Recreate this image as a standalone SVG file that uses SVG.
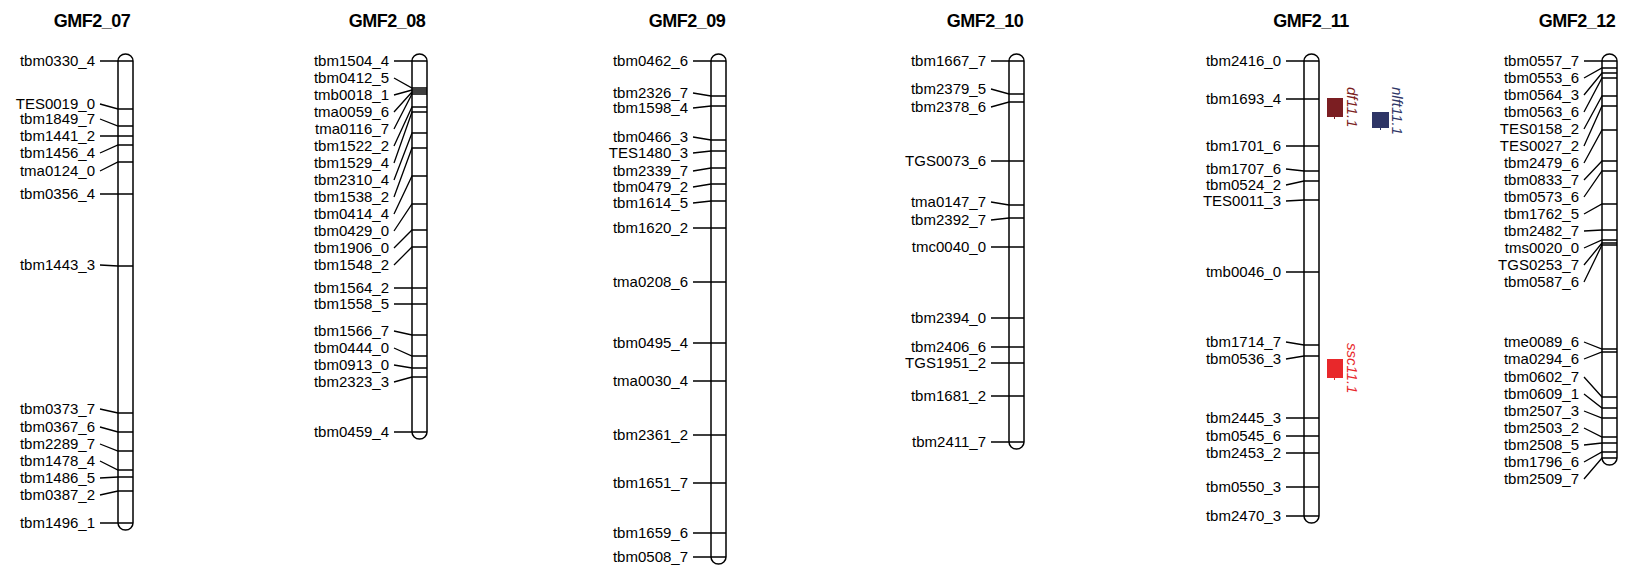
<svg xmlns="http://www.w3.org/2000/svg" width="1627" height="571" viewBox="0 0 1627 571">
<style>
.chr{fill:#fff;stroke:#000;stroke-width:1.5}
.mk{fill:none;stroke:#000;stroke-width:1.3}
.t{font-family:"Liberation Sans",Arial,sans-serif;font-size:15px;fill:#000;text-anchor:end}
.h{font-family:"Liberation Sans",Arial,sans-serif;font-size:18px;font-weight:bold;letter-spacing:-0.5px;text-anchor:middle;fill:#000}
.q{font-family:"Liberation Sans",Arial,sans-serif;font-size:15px;font-style:italic}
</style>
<rect width="1627" height="571" fill="#fff"/>

<g id="GMF2_07">
<text class="h" x="92" y="27">GMF2_07</text>
<path class="chr" d="M118 61 A7.5 7 0 0 1 133 61 L133 523 A7.5 7 0 0 1 118 523 Z"/>
<path class="mk" d="M100 61L118 61H133M100 104L118 109H133M100 119L118 126H133M100 136L118 136H133M100 153L118 145H133M100 171L118 162H133M100 194L118 194H133M100 265L118 266H133M100 409L118 413H133M100 427L118 432H133M100 444L118 451H133M100 461L118 470H133M100 478L118 477H133M100 495L118 491H133M100 523L118 523H133"/>
<text class="t" x="95" y="66">tbm0330_4</text>
<text class="t" x="95" y="109">TES0019_0</text>
<text class="t" x="95" y="124">tbm1849_7</text>
<text class="t" x="95" y="141">tbm1441_2</text>
<text class="t" x="95" y="158">tbm1456_4</text>
<text class="t" x="95" y="176">tma0124_0</text>
<text class="t" x="95" y="199">tbm0356_4</text>
<text class="t" x="95" y="270">tbm1443_3</text>
<text class="t" x="95" y="414">tbm0373_7</text>
<text class="t" x="95" y="432">tbm0367_6</text>
<text class="t" x="95" y="449">tbm2289_7</text>
<text class="t" x="95" y="466">tbm1478_4</text>
<text class="t" x="95" y="483">tbm1486_5</text>
<text class="t" x="95" y="500">tbm0387_2</text>
<text class="t" x="95" y="528">tbm1496_1</text>
</g>

<g id="GMF2_08">
<text class="h" x="387" y="27">GMF2_08</text>
<path class="chr" d="M412 61 A7.5 7 0 0 1 427 61 L427 432 A7.5 7 0 0 1 412 432 Z"/>
<path class="mk" d="M394 61L412 61H427M394 78L412 88H427M394 95L412 90H427M394 112L412 92H427M394 129L412 94H427M394 146L412 107H427M394 163L412 112H427M394 180L412 133H427M394 197L412 148H427M394 214L412 176H427M394 231L412 204H427M394 248L412 230H427M394 265L412 247H427M394 288L412 288H427M394 304L412 304H427M394 331L412 335H427M394 348L412 356H427M394 365L412 368H427M394 382L412 377H427M394 432L412 432H427"/>
<text class="t" x="389" y="66">tbm1504_4</text>
<text class="t" x="389" y="83">tbm0412_5</text>
<text class="t" x="389" y="100">tmb0018_1</text>
<text class="t" x="389" y="117">tma0059_6</text>
<text class="t" x="389" y="134">tma0116_7</text>
<text class="t" x="389" y="151">tbm1522_2</text>
<text class="t" x="389" y="168">tbm1529_4</text>
<text class="t" x="389" y="185">tbm2310_4</text>
<text class="t" x="389" y="202">tbm1538_2</text>
<text class="t" x="389" y="219">tbm0414_4</text>
<text class="t" x="389" y="236">tbm0429_0</text>
<text class="t" x="389" y="253">tbm1906_0</text>
<text class="t" x="389" y="270">tbm1548_2</text>
<text class="t" x="389" y="293">tbm1564_2</text>
<text class="t" x="389" y="309">tbm1558_5</text>
<text class="t" x="389" y="336">tbm1566_7</text>
<text class="t" x="389" y="353">tbm0444_0</text>
<text class="t" x="389" y="370">tbm0913_0</text>
<text class="t" x="389" y="387">tbm2323_3</text>
<text class="t" x="389" y="437">tbm0459_4</text>
</g>

<g id="GMF2_09">
<text class="h" x="687" y="27">GMF2_09</text>
<path class="chr" d="M711 61 A7.5 7 0 0 1 726 61 L726 557 A7.5 7 0 0 1 711 557 Z"/>
<path class="mk" d="M693 61L711 61H726M693 93L711 96H726M693 108L711 106H726M693 137L711 140H726M693 153L711 151H726M693 171L711 168H726M693 187L711 184H726M693 203L711 201H726M693 228L711 228H726M693 282L711 282H726M693 343L711 343H726M693 381L711 381H726M693 435L711 435H726M693 483L711 483H726M693 533L711 533H726M693 557L711 557H726"/>
<text class="t" x="688" y="66">tbm0462_6</text>
<text class="t" x="688" y="98">tbm2326_7</text>
<text class="t" x="688" y="113">tbm1598_4</text>
<text class="t" x="688" y="142">tbm0466_3</text>
<text class="t" x="688" y="158">TES1480_3</text>
<text class="t" x="688" y="176">tbm2339_7</text>
<text class="t" x="688" y="192">tbm0479_2</text>
<text class="t" x="688" y="208">tbm1614_5</text>
<text class="t" x="688" y="233">tbm1620_2</text>
<text class="t" x="688" y="287">tma0208_6</text>
<text class="t" x="688" y="348">tbm0495_4</text>
<text class="t" x="688" y="386">tma0030_4</text>
<text class="t" x="688" y="440">tbm2361_2</text>
<text class="t" x="688" y="488">tbm1651_7</text>
<text class="t" x="688" y="538">tbm1659_6</text>
<text class="t" x="688" y="562">tbm0508_7</text>
</g>

<g id="GMF2_10">
<text class="h" x="985" y="27">GMF2_10</text>
<path class="chr" d="M1009 61 A7.5 7 0 0 1 1024 61 L1024 442 A7.5 7 0 0 1 1009 442 Z"/>
<path class="mk" d="M991 61L1009 61H1024M991 89L1009 94H1024M991 107L1009 102H1024M991 161L1009 161H1024M991 202L1009 205H1024M991 220L1009 218H1024M991 247L1009 247H1024M991 318L1009 318H1024M991 347L1009 347H1024M991 363L1009 363H1024M991 396L1009 396H1024M991 442L1009 442H1024"/>
<text class="t" x="986" y="66">tbm1667_7</text>
<text class="t" x="986" y="94">tbm2379_5</text>
<text class="t" x="986" y="112">tbm2378_6</text>
<text class="t" x="986" y="166">TGS0073_6</text>
<text class="t" x="986" y="207">tma0147_7</text>
<text class="t" x="986" y="225">tbm2392_7</text>
<text class="t" x="986" y="252">tmc0040_0</text>
<text class="t" x="986" y="323">tbm2394_0</text>
<text class="t" x="986" y="352">tbm2406_6</text>
<text class="t" x="986" y="368">TGS1951_2</text>
<text class="t" x="986" y="401">tbm1681_2</text>
<text class="t" x="986" y="447">tbm2411_7</text>
</g>

<g id="GMF2_11">
<text class="h" x="1311" y="27">GMF2_11</text>
<path class="chr" d="M1304 61 A7.5 7 0 0 1 1319 61 L1319 516 A7.5 7 0 0 1 1304 516 Z"/>
<path class="mk" d="M1286 61L1304 61H1319M1286 99L1304 99H1319M1286 146L1304 146H1319M1286 169L1304 171H1319M1286 185L1304 181H1319M1286 201L1304 200H1319M1286 272L1304 272H1319M1286 342L1304 345H1319M1286 359L1304 356H1319M1286 418L1304 418H1319M1286 436L1304 436H1319M1286 453L1304 453H1319M1286 487L1304 487H1319M1286 516L1304 516H1319"/>
<text class="t" x="1281" y="66">tbm2416_0</text>
<text class="t" x="1281" y="104">tbm1693_4</text>
<text class="t" x="1281" y="151">tbm1701_6</text>
<text class="t" x="1281" y="174">tbm1707_6</text>
<text class="t" x="1281" y="190">tbm0524_2</text>
<text class="t" x="1281" y="206">TES0011_3</text>
<text class="t" x="1281" y="277">tmb0046_0</text>
<text class="t" x="1281" y="347">tbm1714_7</text>
<text class="t" x="1281" y="364">tbm0536_3</text>
<text class="t" x="1281" y="423">tbm2445_3</text>
<text class="t" x="1281" y="441">tbm0545_6</text>
<text class="t" x="1281" y="458">tbm2453_2</text>
<text class="t" x="1281" y="492">tbm0550_3</text>
<text class="t" x="1281" y="521">tbm2470_3</text>
</g>

<g id="QTL_df11.1">
<rect x="1327" y="98" width="16" height="19" fill="#7B1E22"/>
<path d="M1334.5 117V119" stroke="#7B1E22" stroke-width="1"/>
<text class="q" fill="#7B1E22" transform="translate(1347 87) rotate(90)">df11.1</text>
</g>
<g id="QTL_nlft11.1">
<rect x="1372" y="112" width="17" height="16" fill="#2E3566"/>
<path d="M1380.5 128V130" stroke="#2E3566" stroke-width="1"/>
<text class="q" fill="#2E3566" transform="translate(1392 87) rotate(90)">nlft11.1</text>
</g>
<g id="QTL_ssc11.1">
<rect x="1327" y="359" width="16" height="19" fill="#E8282B"/>
<path d="M1334.5 378V380" stroke="#E8282B" stroke-width="1"/>
<text class="q" fill="#E8282B" transform="translate(1347 343) rotate(90)">ssc11.1</text>
</g>

<g id="GMF2_12">
<text class="h" x="1577" y="27">GMF2_12</text>
<path class="chr" d="M1602 61 A7.5 7 0 0 1 1617 61 L1617 458 A7.5 7 0 0 1 1602 458 Z"/>
<path class="mk" d="M1584 61L1602 61H1617M1584 78L1602 68H1617M1584 95L1602 73H1617M1584 112L1602 78H1617M1584 129L1602 96H1617M1584 146L1602 106H1617M1584 163L1602 130H1617M1584 180L1602 161H1617M1584 197L1602 171H1617M1584 214L1602 204H1617M1584 231L1602 230H1617M1584 248L1602 240H1617M1584 265L1602 243H1617M1584 282L1602 245H1617M1584 342L1602 349H1617M1584 359L1602 352H1617M1584 377L1602 397H1617M1584 394L1602 408H1617M1584 411L1602 418H1617M1584 428L1602 437H1617M1584 445L1602 443H1617M1584 462L1602 452H1617M1584 479L1602 458H1617"/>
<text class="t" x="1579" y="66">tbm0557_7</text>
<text class="t" x="1579" y="83">tbm0553_6</text>
<text class="t" x="1579" y="100">tbm0564_3</text>
<text class="t" x="1579" y="117">tbm0563_6</text>
<text class="t" x="1579" y="134">TES0158_2</text>
<text class="t" x="1579" y="151">TES0027_2</text>
<text class="t" x="1579" y="168">tbm2479_6</text>
<text class="t" x="1579" y="185">tbm0833_7</text>
<text class="t" x="1579" y="202">tbm0573_6</text>
<text class="t" x="1579" y="219">tbm1762_5</text>
<text class="t" x="1579" y="236">tbm2482_7</text>
<text class="t" x="1579" y="253">tms0020_0</text>
<text class="t" x="1579" y="270">TGS0253_7</text>
<text class="t" x="1579" y="287">tbm0587_6</text>
<text class="t" x="1579" y="347">tme0089_6</text>
<text class="t" x="1579" y="364">tma0294_6</text>
<text class="t" x="1579" y="382">tbm0602_7</text>
<text class="t" x="1579" y="399">tbm0609_1</text>
<text class="t" x="1579" y="416">tbm2507_3</text>
<text class="t" x="1579" y="433">tbm2503_2</text>
<text class="t" x="1579" y="450">tbm2508_5</text>
<text class="t" x="1579" y="467">tbm1796_6</text>
<text class="t" x="1579" y="484">tbm2509_7</text>
</g>
</svg>
